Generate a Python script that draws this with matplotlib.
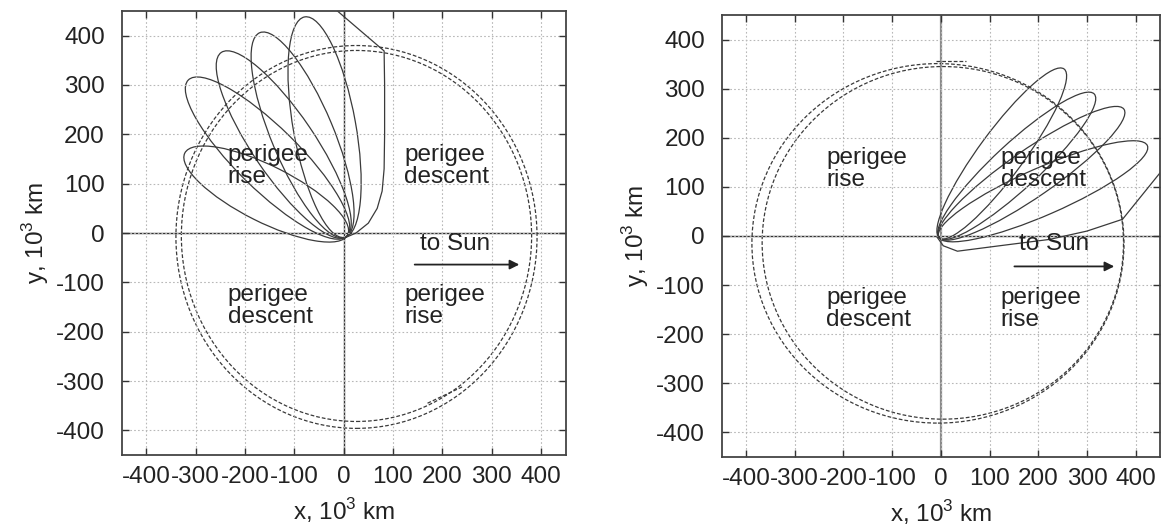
import numpy as np
import matplotlib
matplotlib.use("Agg")
import matplotlib.pyplot as plt
from matplotlib.patches import Ellipse

plt.rcParams['font.family'] = ['Liberation Sans', 'DejaVu Sans']
plt.rcParams['mathtext.fontset'] = 'custom'
plt.rcParams['mathtext.rm'] = 'Liberation Sans'
plt.rcParams['axes.unicode_minus'] = False

# ---- data (units: 10^3 km) ----
ticks = [-400, -300, -200, -100, 0, 100, 200, 300, 400]

# left panel: spacecraft orbit apogee points and perigee distance
left_apogee_x = [-79, -170, -248, -315, -322]
left_apogee_y = [438, 406, 366, 310, 162]
left_perigee = [9, 9, 9, 9, 9]
# transfer arc through the lunar encounter
left_arc_x = [2, 25, 50, 68, 78, 82, 83, 83, 82, -15]
left_arc_y = [-10, 0, 20, 50, 85, 130, 200, 300, 369, 452]
# Moon path loops: centre x, centre y, half-width, half-height
left_moon_cx = [26, 26]
left_moon_cy = [-8, -6]
left_moon_a = [366, 355]
left_moon_b = [388, 376]
left_moon_tail_x = [170, 240]
left_moon_tail_y = [-345, -312]

# right panel
right_apogee_x = [253, 315, 376, 424]
right_apogee_y = [340, 289, 258, 184]
right_perigee = [5, 5, 5, 5]
right_arc_x = [-8, 5, 34, 120, 223, 300, 373, 452]
right_arc_y = [-2, -20, -31, -20, -7, 10, 34, 131]
right_moon_cx = [-6, 4]
right_moon_cy = [-15, -14]
right_moon_a = [382, 371]
right_moon_b = [366, 359]
right_moon_tail_x = [-9, 52]
right_moon_tail_y = [356, 356]

LINE = '#3a3a3a'
DASH = (0, (3, 1.6))
FS = 17.5


def orbit_patch(xa, ya, rp):
    ra = np.hypot(xa, ya)
    th = np.arctan2(ya, xa)
    a = 0.5 * (ra + rp)
    d = a - rp
    b = np.sqrt(ra * rp)
    return Ellipse((d * np.cos(th), d * np.sin(th)), 2 * a, 2 * b,
                   angle=np.degrees(th), fill=False, ec=LINE, lw=0.9)


def setup(ax, vline_color, vline_lw):
    ax.set_xlim(-450, 450)
    ax.set_ylim(-450, 450)
    ax.set_xticks(ticks)
    ax.set_yticks(ticks)
    ax.grid(True, color='#b8b8b8', ls=(0, (1.5, 2)), lw=0.8)
    ax.tick_params(direction='in', length=5, width=1, top=True, right=True,
                   labelsize=FS, colors='#333333', labelcolor='#222222')
    ax.tick_params(axis='y', pad=12)
    ax.tick_params(axis='x', pad=8)
    for s in ax.spines.values():
        s.set_color('#444444')
        s.set_linewidth(1.3)
    ax.axhline(0, color='#333333', lw=1.0, zorder=1)
    ax.axvline(0, color=vline_color, lw=vline_lw, zorder=1)
    ax.set_xlabel('x, 10$^3$ km', fontsize=FS, color='#222222', labelpad=6)
    ax.set_ylabel('y, 10$^3$ km', fontsize=FS, color='#222222', labelpad=4)


def labels(ax, sun_text_x, sun_text_y, arrow_x0, arrow_x1, arrow_y):
    kw = dict(fontsize=FS, color='#222222', va='center', ha='left',
              linespacing=1.0, zorder=5)
    ax.text(-235, 136, 'perigee\nrise', **kw)
    ax.text(123, 136, 'perigee\ndescent', **kw)
    ax.text(-235, -148, 'perigee\ndescent', **kw)
    ax.text(123, -148, 'perigee\nrise', **kw)
    ax.text(sun_text_x, sun_text_y, 'to Sun', fontsize=FS, color='#222222',
            ha='center', va='center', zorder=5)
    ax.annotate('', xy=(arrow_x1, arrow_y), xytext=(arrow_x0, arrow_y),
                arrowprops=dict(arrowstyle='-|>', color='#222222', lw=1.3,
                                mutation_scale=14, shrinkA=0, shrinkB=0))


fig = plt.figure(figsize=(11.62, 5.31), dpi=100)
axL = fig.add_axes([0.1047, 0.1431, 0.3821, 0.8362])
axR = fig.add_axes([0.6211, 0.1394, 0.3772, 0.8324])

# left panel
setup(axL, '#333333', 1.0)
for xa, ya, rp in zip(left_apogee_x, left_apogee_y, left_perigee):
    axL.add_patch(orbit_patch(xa, ya, rp))
axL.plot(left_arc_x, left_arc_y, color=LINE, lw=0.9)
for cx, cy, a, b in zip(left_moon_cx, left_moon_cy, left_moon_a, left_moon_b):
    axL.add_patch(Ellipse((cx, cy), 2 * a, 2 * b, fill=False, ec=LINE,
                          lw=0.9, ls=DASH))
axL.plot(left_moon_tail_x, left_moon_tail_y, color=LINE, lw=0.9, ls=DASH)
labels(axL, 225, -23, 144, 356, -64)

# right panel
setup(axR, '#8a8a8a', 1.6)
for xa, ya, rp in zip(right_apogee_x, right_apogee_y, right_perigee):
    axR.add_patch(orbit_patch(xa, ya, rp))
axR.plot(right_arc_x, right_arc_y, color=LINE, lw=0.9)
for cx, cy, a, b in zip(right_moon_cx, right_moon_cy, right_moon_a, right_moon_b):
    axR.add_patch(Ellipse((cx, cy), 2 * a, 2 * b, fill=False, ec=LINE,
                          lw=0.9, ls=DASH))
axR.plot(right_moon_tail_x, right_moon_tail_y, color=LINE, lw=0.9, ls=DASH)
labels(axR, 233, -17, 151, 356, -62)

fig.savefig('out.png', dpi=100)
